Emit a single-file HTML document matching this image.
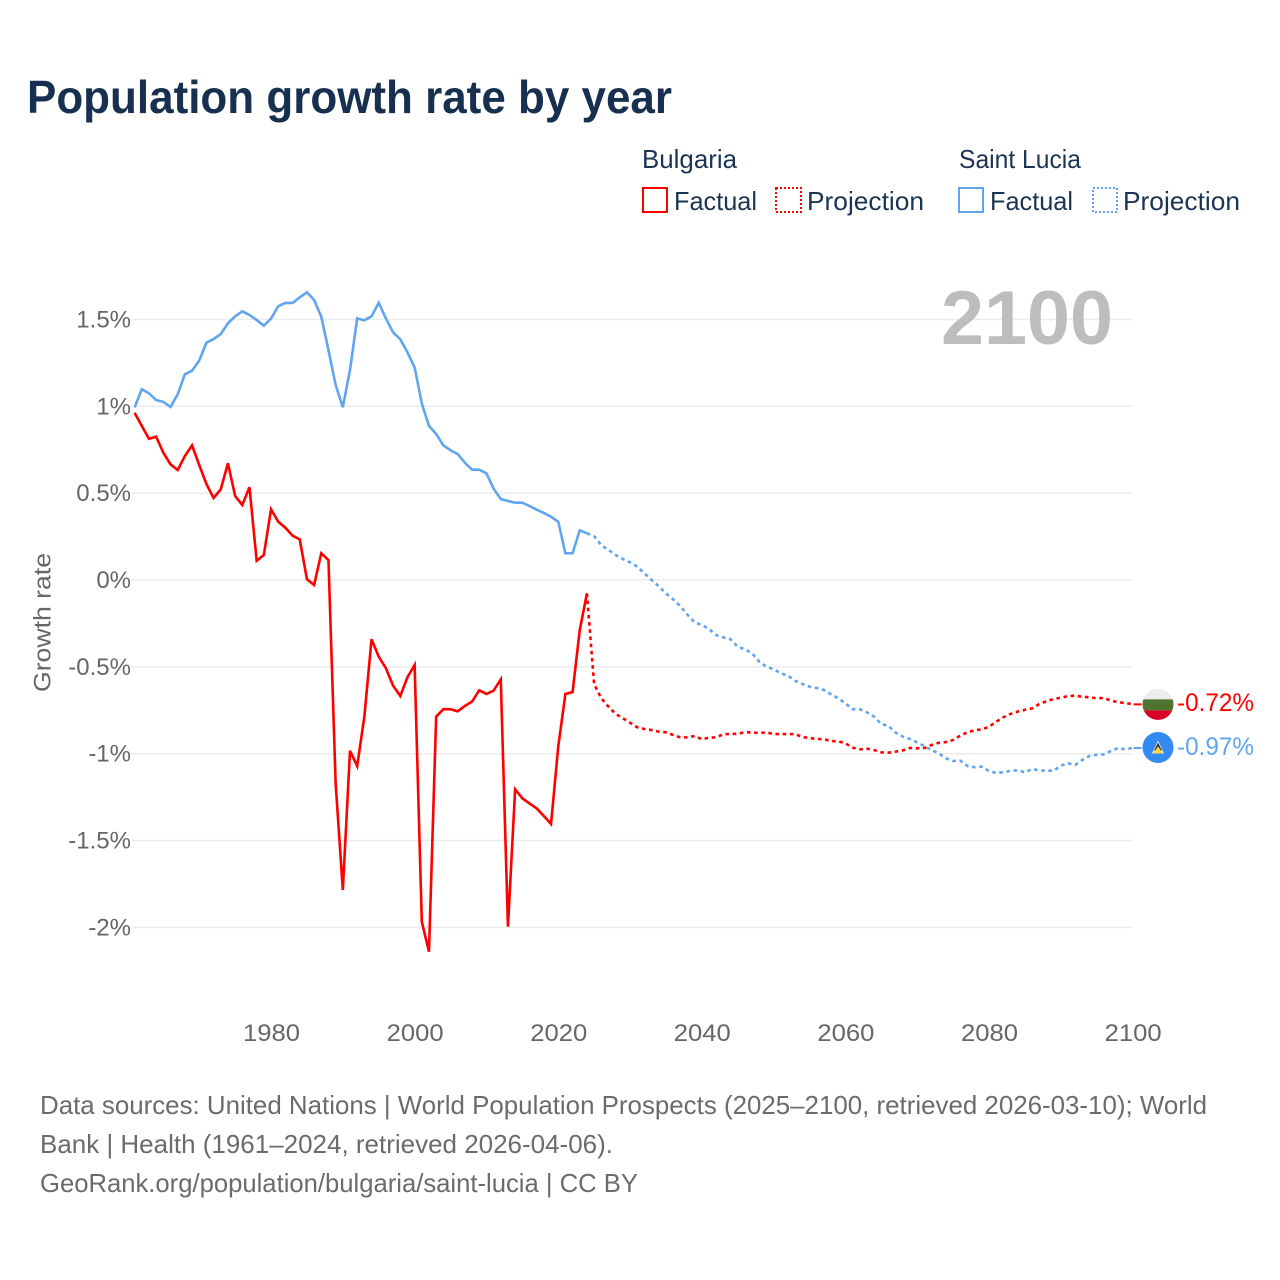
<!DOCTYPE html>
<html lang="en">
<head>
<meta charset="utf-8">
<title>Population growth rate by year</title>
<style>
html,body{margin:0;padding:0;background:#fff;width:1280px;height:1280px;overflow:hidden}
svg{display:block}
text{font-family:"Liberation Sans",Arial,sans-serif}
</style>
</head>
<body>
<svg id="chart" xmlns="http://www.w3.org/2000/svg" width="1280" height="1280" viewBox="0 0 1280 1280">
  <rect x="0" y="0" width="1280" height="1280" fill="#fff"/>
  <defs>
    <clipPath id="flag-clip"><circle cx="0" cy="0" r="15.5"/></clipPath>
  </defs>
  <text x="27" y="113" font-size="46" font-weight="700" fill="#17304f" textLength="645" lengthAdjust="spacingAndGlyphs">Population growth rate by year</text>

  <g font-size="26" fill="#1c3454">
    <text x="642" y="168" textLength="95" lengthAdjust="spacingAndGlyphs">Bulgaria</text>
    <g>
      <rect x="643" y="188" width="24" height="24" fill="none" stroke="#ff0000" stroke-width="2"/>
      <text x="674" y="210" textLength="83" lengthAdjust="spacingAndGlyphs">Factual</text>
    </g>
    <g>
      <rect x="776" y="188" width="25" height="24" fill="none" stroke="#ff0000" stroke-width="2" stroke-dasharray="2,2"/>
      <text x="807" y="210" textLength="117" lengthAdjust="spacingAndGlyphs">Projection</text>
    </g>
    <text x="959" y="168" textLength="122" lengthAdjust="spacingAndGlyphs">Saint Lucia</text>
    <g>
      <rect x="959" y="188" width="24" height="24" fill="none" stroke="#60a5ee" stroke-width="2"/>
      <text x="990" y="210" textLength="83" lengthAdjust="spacingAndGlyphs">Factual</text>
    </g>
    <g>
      <rect x="1093" y="188" width="24" height="24" fill="none" stroke="#60a5ee" stroke-width="2" stroke-dasharray="2,2"/>
      <text x="1123" y="210" textLength="117" lengthAdjust="spacingAndGlyphs">Projection</text>
    </g>
  </g>

  <g id="grid"></g>
  <text x="941" y="344" font-size="76" font-weight="700" fill="#bdbdbd" textLength="172" lengthAdjust="spacingAndGlyphs">2100</text>
  <g id="yticks" font-size="24" fill="#666"></g>
  <g id="xticks" font-size="24" fill="#666"></g>
  <text transform="translate(50.5,692) rotate(-90)" font-size="24" fill="#666" textLength="139" lengthAdjust="spacingAndGlyphs">Growth rate</text>
  <g id="series"></g>

  <g id="flag-bulgaria">
    <g clip-path="url(#flag-clip)">
      <rect x="-16" y="-16" width="32" height="11" fill="#ececec"/>
      <rect x="-16" y="-5" width="32" height="11" fill="#4f7430"/>
      <rect x="-16" y="6" width="32" height="10" fill="#d80027"/>
    </g>
  </g>
  <g id="flag-saint-lucia">
    <circle cx="0" cy="0" r="15.5" fill="#338af3"/>
    <polygon points="0,-7 6,6 -6,6" fill="#f2f2f2"/>
    <polygon points="0,-5 4,3 -4,3" fill="#333"/>
    <polygon points="0,-1 5,6 -5,6" fill="#ffda44"/>
  </g>
  <g id="endlabels" font-size="25"></g>

  <g font-size="26" fill="#6b6b6b">
    <text x="40" y="1114" textLength="1167" lengthAdjust="spacingAndGlyphs">Data sources: United Nations | World Population Prospects (2025–2100, retrieved 2026-03-10); World</text>
    <text x="40" y="1153" textLength="573" lengthAdjust="spacingAndGlyphs">Bank | Health (1961–2024, retrieved 2026-04-06).</text>
    <text x="40" y="1192" textLength="598" lengthAdjust="spacingAndGlyphs">GeoRank.org/population/bulgaria/saint-lucia | CC BY</text>
  </g>
</svg>
<script>
// ---- chart data ----
const factualStartYear = 1961;
const projectionStartYear = 2024;
const yTickValues = [1.5, 1, 0.5, 0, -0.5, -1, -1.5, -2];
const yTickLabels = ["1.5%", "1%", "0.5%", "0%", "-0.5%", "-1%", "-1.5%", "-2%"];
const xTickYears = [1980, 2000, 2020, 2040, 2060, 2080, 2100];
const xTickLabels = ["1980", "2000", "2020", "2040", "2060", "2080", "2100"];
const bulgariaFactual = [
  0.963,0.887,0.813,0.825,0.733,0.666,0.633,0.714,0.775,0.662,
  0.553,0.472,0.522,0.672,0.484,0.432,0.534,0.111,0.144,0.407,
  0.336,0.301,0.255,0.234,0.005,-0.029,0.154,0.115,-1.17,-1.785,
  -0.983,-1.071,-0.787,-0.341,-0.441,-0.508,-0.608,-0.668,-0.56,-0.489,
  -1.967,-2.14,-0.787,-0.744,-0.744,-0.756,-0.725,-0.7,-0.635,-0.656,
  -0.637,-0.572,-1.996,-1.205,-1.257,-1.286,-1.315,-1.359,-1.405,-0.96,
  -0.656,-0.645,-0.288,-0.077
];
const bulgariaProjection = [
  -0.077,-0.6,-0.681,-0.729,-0.771,-0.796,-0.822,-0.848,-0.858,-0.864,
  -0.873,-0.877,-0.892,-0.906,-0.906,-0.898,-0.917,-0.908,-0.906,-0.888,
  -0.887,-0.885,-0.877,-0.877,-0.881,-0.877,-0.887,-0.887,-0.887,-0.887,
  -0.904,-0.91,-0.915,-0.917,-0.927,-0.929,-0.94,-0.965,-0.975,-0.971,
  -0.979,-0.992,-0.994,-0.988,-0.981,-0.967,-0.969,-0.967,-0.95,-0.937,
  -0.933,-0.921,-0.896,-0.877,-0.865,-0.86,-0.845,-0.816,-0.79,-0.771,
  -0.758,-0.747,-0.739,-0.714,-0.698,-0.685,-0.678,-0.668,-0.666,-0.672,
  -0.675,-0.681,-0.679,-0.695,-0.704,-0.708,-0.716
];
const saintLuciaFactual = [
  0.994,1.098,1.075,1.036,1.025,0.996,1.069,1.184,1.205,1.263,
  1.366,1.387,1.416,1.478,1.518,1.547,1.526,1.497,1.464,1.505,
  1.576,1.595,1.595,1.627,1.656,1.612,1.516,1.324,1.123,0.995,
  1.209,1.506,1.495,1.518,1.596,1.506,1.426,1.386,1.311,1.224,
  1.017,0.887,0.841,0.775,0.747,0.725,0.675,0.635,0.635,0.614,
  0.526,0.466,0.455,0.445,0.445,0.426,0.405,0.386,0.364,0.336,
  0.154,0.154,0.286,0.269
];
const saintLuciaProjection = [
  0.269,0.253,0.2,0.173,0.144,0.121,0.102,0.077,0.038,0,
  -0.035,-0.077,-0.111,-0.15,-0.2,-0.244,-0.259,-0.282,-0.317,-0.33,
  -0.341,-0.384,-0.399,-0.422,-0.47,-0.499,-0.514,-0.537,-0.551,-0.58,
  -0.599,-0.614,-0.622,-0.633,-0.658,-0.681,-0.71,-0.744,-0.744,-0.762,
  -0.787,-0.829,-0.84,-0.879,-0.902,-0.915,-0.935,-0.956,-0.979,-0.998,
  -1.027,-1.042,-1.04,-1.071,-1.078,-1.075,-1.1,-1.111,-1.107,-1.098,
  -1.096,-1.107,-1.088,-1.096,-1.098,-1.098,-1.069,-1.055,-1.065,-1.036,
  -1.013,-1.006,-1.004,-0.984,-0.967,-0.975,-0.967
];
const endLabelBulgaria = "-0.72%";
const endLabelSaintLucia = "-0.97%";

// ---- axis functions ----
const NS = "http://www.w3.org/2000/svg";
function xScale(year) { return 134.6 + (year - 1961) * 7.18; }
function yScale(value) { return 580 - value * 173.7; }
function make(tag, parentId) {
  const el = document.createElementNS(NS, tag);
  document.getElementById(parentId).appendChild(el);
  return el;
}
function pathFor(values, startYear) {
  return values.map(function (v, i) {
    return (i ? "L" : "M") + xScale(startYear + i).toFixed(2) + " " + yScale(v).toFixed(2);
  }).join(" ");
}

// gridlines and y labels
yTickValues.forEach(function (v, i) {
  const line = make("line", "grid");
  
  
  line.setAttribute("x1", 131);
  line.setAttribute("x2", xScale(2100));
  line.setAttribute("y1", yScale(v));
  line.setAttribute("y2", yScale(v));
  line.setAttribute("stroke", "#ececec");
  line.setAttribute("stroke-width", "1.5");
  const t = make("text", "yticks");
  
  
  t.setAttribute("x", 131);
  t.setAttribute("y", yScale(v) + 8);
  t.setAttribute("text-anchor", "end");
  t.textContent = yTickLabels[i];
});

// x labels
xTickYears.forEach(function (year, i) {
  const t = make("text", "xticks");
  
  
  t.setAttribute("x", xScale(year) + 0.5);
  t.setAttribute("y", 1041);
  t.setAttribute("text-anchor", "middle");
  t.setAttribute("textLength", 57);
  t.setAttribute("lengthAdjust", "spacingAndGlyphs");
  t.textContent = xTickLabels[i];
});

// series
function drawLine(name, values, startYear, color, dashed) {
  const p = make("path", "series");
  
  
  p.setAttribute("d", pathFor(values, startYear));
  p.setAttribute("fill", "none");
  p.setAttribute("stroke", color);
  p.setAttribute("stroke-width", "2.6");
  p.setAttribute("stroke-linejoin", "miter");
  if (dashed) p.setAttribute("stroke-dasharray", "3.6,3.6");
}
function drawConnector(name, lastValue, color) {
  const c = make("line", "series");
  
  
  c.setAttribute("x1", xScale(2100) + 1);
  c.setAttribute("x2", xScale(2100) + 9);
  c.setAttribute("y1", yScale(lastValue));
  c.setAttribute("y2", yScale(lastValue));
  c.setAttribute("stroke", color);
  c.setAttribute("stroke-width", "2");
}
const RED = "#ff0000";
const BLUE = "#60a5ee";
drawLine("saint-lucia-factual-line", saintLuciaFactual, factualStartYear, BLUE, false);
drawLine("saint-lucia-projection-line", saintLuciaProjection, projectionStartYear, BLUE, true);
drawLine("bulgaria-factual-line", bulgariaFactual, factualStartYear, RED, false);
drawLine("bulgaria-projection-line", bulgariaProjection, projectionStartYear, RED, true);
const lastBulgaria = bulgariaProjection[bulgariaProjection.length - 1];
const lastSaintLucia = saintLuciaProjection[saintLuciaProjection.length - 1];
drawConnector("bulgaria-end-connector", lastBulgaria, RED);
drawConnector("saint-lucia-end-connector", lastSaintLucia, BLUE);

// end flags and labels
document.getElementById("flag-bulgaria").setAttribute("transform", "translate(1158," + yScale(lastBulgaria) + ")");
document.getElementById("flag-saint-lucia").setAttribute("transform", "translate(1158," + (yScale(lastSaintLucia) - 0.5) + ")");
const labelBg = make("text", "endlabels");


labelBg.setAttribute("x", 1177);
labelBg.setAttribute("y", yScale(lastBulgaria) + 6.5);
labelBg.setAttribute("fill", RED);
labelBg.setAttribute("textLength", 77);
labelBg.setAttribute("lengthAdjust", "spacingAndGlyphs");
labelBg.textContent = endLabelBulgaria;
const labelLc = make("text", "endlabels");


labelLc.setAttribute("x", 1177);
labelLc.setAttribute("y", yScale(lastSaintLucia) + 7);
labelLc.setAttribute("fill", BLUE);
labelLc.setAttribute("textLength", 77);
labelLc.setAttribute("lengthAdjust", "spacingAndGlyphs");
labelLc.textContent = endLabelSaintLucia;
</script>
</body>
</html>
